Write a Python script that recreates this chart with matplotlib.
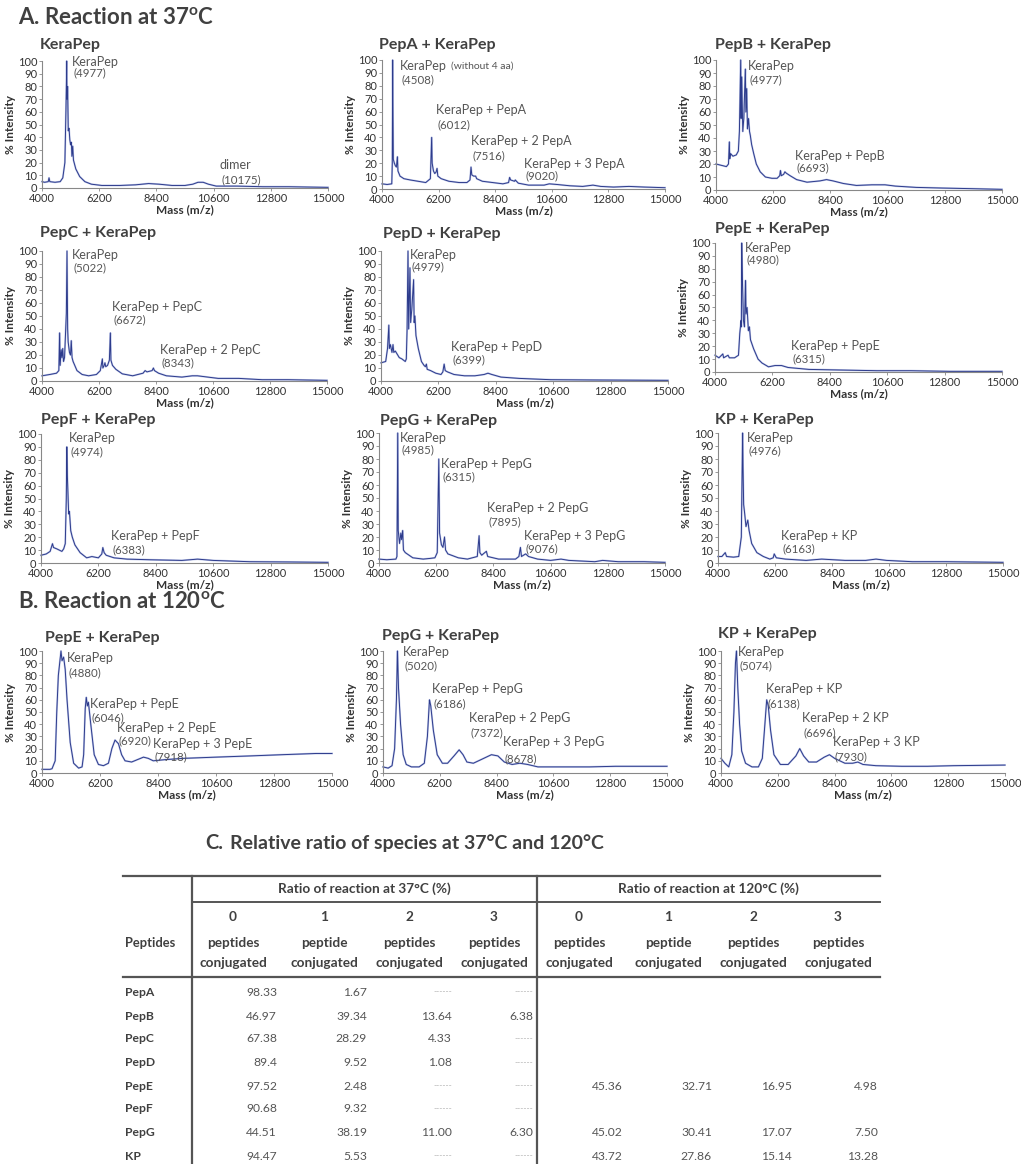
import matplotlib.pyplot as plt

plt.rcParams['font.family'] = ['Lato', 'DejaVu Sans']
plt.rcParams['mathtext.fontset'] = 'custom'
plt.rcParams['mathtext.rm'] = 'Lato'
plt.rcParams['mathtext.bf'] = 'Lato:bold'

W, H = 1021, 1164

# ---- spectra, 37 C ----
kerapep_mz = [4000, 4100, 4240, 4270, 4300, 4500, 4700, 4800, 4880, 4920, 4940, 4950, 4960, 4985,
              5010, 5040, 5070, 5100, 5130, 5150, 5180, 5210, 5300, 5450, 5650, 5900, 6300, 7000,
              7600, 8100, 8500, 9000, 9500, 9800, 10000, 10200, 10400, 10700, 11500, 12500, 13500, 15000]
kerapep_int = [5, 4.5, 5, 8, 5, 4.5, 5, 8, 20, 60, 83, 100, 70, 80,
               45, 47, 38, 34, 36, 25, 33, 22, 15, 9, 5, 3, 2, 2,
               2.5, 3.5, 3, 2, 2, 3, 4.5, 4.5, 3, 1.5, 1.5, 1, 1, 0.5]

pepa_mz = [4000, 4200, 4380, 4400, 4414, 4425, 4440, 4480, 4520, 4560, 4600, 4620, 4700, 4850,
           5100, 5400, 5700, 5880, 5930, 5950, 6000, 6050, 6100, 6140, 6170, 6300, 6600, 7000,
           7300, 7420, 7460, 7490, 7560, 7640, 7680, 7900, 8300, 8700, 8920, 8960, 9000, 9150,
           9180, 9300, 9700, 10300, 10500, 10800, 11300, 11800, 12200, 12500, 13000, 13600, 14200, 15000]
pepa_int = [4, 3.5, 4, 20, 100, 63, 23, 20, 18, 17, 25, 14, 10, 8,
            7, 6, 5, 8, 40, 20, 14, 12, 13, 16, 10, 8, 6, 5,
            5, 7, 17, 11, 10, 10, 8, 6, 5, 4, 5, 9, 7, 6,
            7, 4.5, 3, 3, 4, 3.5, 2.5, 2, 3, 2, 1.5, 2, 1.5, 1]

pepb_mz = [4000, 4200, 4400, 4480, 4514, 4530, 4560, 4650, 4780, 4860, 4900, 4950, 4965, 4990,
           5030, 5070, 5100, 5130, 5150, 5180, 5210, 5250, 5290, 5320, 5370, 5450, 5550, 5700,
           5900, 6150, 6350, 6450, 6480, 6510, 6600, 6650, 6700, 6850, 7100, 7500, 8000, 8250,
           8500, 8900, 9400, 10000, 10500, 10900, 11700, 12700, 13900, 15000]
pepb_int = [20, 19, 18, 20, 37, 24, 28, 26, 27, 30, 45, 100, 55, 87,
            45, 55, 75, 93, 60, 78, 47, 55, 45, 42, 35, 28, 20, 14,
            10, 9, 9, 11, 15, 11, 12, 14, 13, 11, 8, 6, 7, 8,
            7, 5, 3.5, 4, 4, 3, 2, 1.5, 1, 0.5]

pepc_mz = [4000, 4300, 4560, 4650, 4680, 4700, 4740, 4770, 4800, 4830, 4870, 4940, 4965, 4990,
           5010, 5060, 5100, 5130, 5160, 5200, 5350, 5550, 5800, 6100, 6250, 6330, 6350, 6400,
           6430, 6460, 6530, 6600, 6640, 6660, 6720, 6850, 7100, 7500, 7900, 7980, 8050, 8250,
           8300, 8340, 8500, 8800, 9400, 9800, 10000, 10400, 10800, 11600, 12500, 13500, 15000]
pepc_int = [4, 5, 6, 8, 37, 12, 24, 18, 25, 15, 18, 52, 100, 40,
            30, 22, 20, 31, 18, 15, 8, 5, 4, 5, 8, 17, 10, 12,
            14, 11, 12, 16, 37, 16, 12, 9, 5.5, 4, 6, 8, 7, 8,
            10, 8, 6, 4, 3, 4, 4, 3, 2, 2, 1, 1, 0.5]

pepd_mz = [4000, 4180, 4250, 4300, 4320, 4360, 4420, 4460, 4490, 4550, 4700, 4800, 4930, 4970,
           5000, 5035, 5060, 5110, 5135, 5180, 5250, 5270, 5300, 5340, 5430, 5550, 5650, 5700,
           5740, 5770, 5900, 6100, 6300, 6370, 6420, 6460, 6550, 6800, 7200, 7600, 7950, 8100,
           8250, 8600, 9300, 10500, 12000, 15000]
pepd_int = [14, 15, 25, 43, 25, 28, 22, 28, 22, 23, 18, 17, 15, 17,
            40, 100, 40, 87, 45, 55, 78, 45, 50, 35, 25, 15, 12, 11,
            13, 9, 8, 6, 5, 7, 13, 8, 7, 5, 4, 4, 5, 6,
            5, 3, 2, 1, 0.8, 0.5]

pepe_mz = [4000, 4150, 4300, 4330, 4500, 4550, 4750, 4900, 4950, 5000, 5010, 5025, 5050, 5090,
           5130, 5170, 5190, 5230, 5280, 5320, 5360, 5480, 5650, 5800, 6050, 6300, 6550, 6800,
           7600, 8900, 10200, 11500, 13000, 15000]
pepe_int = [13, 11, 14, 11, 13, 11, 11, 13, 30, 40, 35, 100, 72, 40,
            35, 71, 45, 50, 32, 35, 25, 18, 10, 7, 4, 5, 5, 3.5,
            2, 1.5, 1, 1, 0.5, 0.5]

pepf_mz = [4000, 4200, 4350, 4440, 4480, 4600, 4800, 4870, 4930, 4970, 4990, 5010, 5060, 5090,
           5140, 5200, 5300, 5500, 5750, 5950, 6200, 6330, 6370, 6420, 6500, 6800, 7300, 8200,
           9400, 10000, 10600, 12000, 13500, 15000]
pepf_int = [6, 7, 9, 15, 12, 11, 9, 11, 15, 50, 90, 68, 38, 40,
            25, 20, 14, 8, 4, 5, 4, 7, 12, 8, 6, 4, 3, 2.5,
            2, 3, 2, 1, 0.8, 0.5]

pepg_mz = [4000, 4300, 4650, 4690, 4720, 4740, 4790, 4840, 4870, 4910, 4940, 5010, 5300, 5700,
           5950, 6150, 6240, 6300, 6330, 6400, 6460, 6520, 6560, 6650, 7050, 7400, 7780, 7850,
           7880, 7950, 8130, 8180, 8600, 9250, 9380, 9440, 9480, 9640, 9750, 10100, 10600, 11000,
           11300, 12300, 12600, 13200, 14200, 15000]
pepg_int = [3, 2.5, 3, 5, 100, 25, 15, 23, 18, 25, 10, 8, 4, 3,
            3.5, 4, 8, 80, 23, 14, 12, 20, 10, 7, 4, 3, 5, 21,
            8, 6, 9, 5, 3, 3, 5, 12, 5, 7, 5, 3, 2, 3,
            2, 1, 2, 1, 1, 0.5]

kp_mz = [4000, 4150, 4280, 4330, 4600, 4800, 4900, 4950, 4965, 4990, 5030, 5080, 5150, 5200,
         5300, 5500, 5750, 6000, 6130, 6170, 6250, 6600, 7400, 8000, 8900, 9700, 10100, 10500,
         11500, 12800, 15000]
kp_int = [5, 5, 8, 5, 4.5, 5, 20, 100, 75, 45, 38, 28, 33, 25,
          15, 8, 5, 3, 4, 7, 4, 3, 2, 3, 2, 2, 3, 2,
          1, 1, 0.5]

# ---- spectra, 120 C ----
pepe_hot_mz = [4000, 4300, 4380, 4500, 4560, 4620, 4670, 4720, 4760, 4820, 4880, 4950, 5070, 5200,
               5390, 5520, 5580, 5640, 5680, 5720, 5760, 5850, 5980, 6140, 6330, 6520, 6650, 6770,
               6900, 7020, 7150, 7400, 7850, 8030, 8220, 8700, 9360, 10600, 11900, 13100, 14400, 15000]
pepe_hot_int = [3, 3, 3.5, 10, 50, 80, 90, 100, 92, 95, 85, 60, 25, 8,
                4, 5, 15, 53, 62, 55, 58, 40, 15, 7, 6, 8, 20, 27,
                24, 15, 10, 9, 13, 12, 10, 11, 12, 13, 14, 15, 16, 16]

pepg_hot_mz = [4000, 4200, 4350, 4450, 4520, 4560, 4600, 4680, 4780, 4900, 5100, 5400, 5600, 5720,
               5800, 5850, 5950, 6100, 6300, 6500, 6750, 6950, 7100, 7250, 7500, 7900, 8200, 8450,
               8700, 9000, 9300, 9600, 10000, 11000, 12000, 13000, 14000, 15000]
pepg_hot_int = [5, 4, 6, 20, 60, 100, 70, 40, 15, 7, 5, 5, 8, 30,
                60, 55, 35, 15, 8, 8, 14, 19, 15, 9, 8, 12, 15, 14,
                9, 7, 8, 7, 5, 5, 5, 5.5, 5.5, 5.5]

kp_hot_mz = [4000, 4150, 4300, 4420, 4500, 4560, 4600, 4650, 4720, 4800, 4950, 5200, 5450, 5600,
             5700, 5770, 5830, 5920, 6050, 6300, 6600, 6900, 7050, 7200, 7400, 7700, 8000, 8200,
             8400, 8800, 9100, 9300, 9500, 10000, 11000, 12000, 13000, 15000]
kp_hot_int = [12, 8, 5, 15, 50, 90, 100, 70, 40, 18, 8, 5, 5, 12,
              40, 60, 55, 35, 15, 7, 7, 14, 20, 14, 9, 9, 13, 15,
              12, 8, 8, 9, 7, 6, 5.5, 5.5, 6, 6.5]

# ---- peak annotations ----
kerapep_peaks = ["KeraPep", "dimer"]
kerapep_peak_mz = [4977, 10175]
pepa_peaks = ["KeraPep", "KeraPep + PepA", "KeraPep + 2 PepA", "KeraPep + 3 PepA"]
pepa_peak_mz = [4508, 6012, 7516, 9020]
pepb_peaks = ["KeraPep", "KeraPep + PepB"]
pepb_peak_mz = [4977, 6693]
pepc_peaks = ["KeraPep", "KeraPep + PepC", "KeraPep + 2 PepC"]
pepc_peak_mz = [5022, 6672, 8343]
pepd_peaks = ["KeraPep", "KeraPep + PepD"]
pepd_peak_mz = [4979, 6399]
pepe_peaks = ["KeraPep", "KeraPep + PepE"]
pepe_peak_mz = [4980, 6315]
pepf_peaks = ["KeraPep", "KeraPep + PepF"]
pepf_peak_mz = [4974, 6383]
pepg_peaks = ["KeraPep", "KeraPep + PepG", "KeraPep + 2 PepG", "KeraPep + 3 PepG"]
pepg_peak_mz = [4985, 6315, 7895, 9076]
kp_peaks = ["KeraPep", "KeraPep + KP"]
kp_peak_mz = [4976, 6163]
pepe_hot_peaks = ["KeraPep", "KeraPep + PepE", "KeraPep + 2 PepE", "KeraPep + 3 PepE"]
pepe_hot_peak_mz = [4880, 6046, 6920, 7918]
pepg_hot_peaks = ["KeraPep", "KeraPep + PepG", "KeraPep + 2 PepG", "KeraPep + 3 PepG"]
pepg_hot_peak_mz = [5020, 6186, 7372, 8678]
kp_hot_peaks = ["KeraPep", "KeraPep + KP", "KeraPep + 2 KP", "KeraPep + 3 KP"]
kp_hot_peak_mz = [5074, 6138, 6696, 7930]

# ---- table ----
peptides = ["PepA", "PepB", "PepC", "PepD", "PepE", "PepF", "PepG", "KP"]
ratio_37 = [[98.33, 1.67, None, None],
            [46.97, 39.34, 13.64, 6.38],
            [67.38, 28.29, 4.33, None],
            [89.4, 9.52, 1.08, None],
            [97.52, 2.48, None, None],
            [90.68, 9.32, None, None],
            [44.51, 38.19, 11.00, 6.30],
            [94.47, 5.53, None, None]]
ratio_120 = [None, None, None, None,
             [45.36, 32.71, 16.95, 4.98],
             None,
             [45.02, 30.41, 17.07, 7.50],
             [43.72, 27.86, 15.14, 13.28]]
n_conj = ["0", "1", "2", "3"]
conj_word = ["peptides", "peptide", "peptides", "peptides"]

LINE = '#2d3b8c'
HALO = '#9aa8dc'
TXT = '#404040'
GREY = '#555555'

fig = plt.figure(figsize=(W / 100, H / 100), dpi=100)
bg = fig.add_axes([0, 0, 1, 1])
bg.set_xlim(0, W)
bg.set_ylim(H, 0)
bg.axis('off')


def spectrum(box, title, title_xy, mz, inten, names, masses, spots):
    l, t, r, b = box
    ax = fig.add_axes([l / W, 1 - b / H, (r - l) / W, (b - t) / H])
    ax.plot(mz, inten, color=HALO, lw=1.4, alpha=0.6, clip_on=False)
    ax.plot(mz, inten, color=LINE, lw=0.7, clip_on=False)
    ax.set_xlim(4000, 15000)
    ax.set_ylim(0, 100)
    ax.set_xticks([4000, 6200, 8400, 10600, 12800, 15000])
    ax.set_yticks(range(0, 101, 10))
    for s in ['top', 'right']:
        ax.spines[s].set_visible(False)
    for s in ['left', 'bottom']:
        ax.spines[s].set_color('#888888')
        ax.spines[s].set_linewidth(0.8)
    ax.tick_params(direction='out', length=2.5, width=0.6, color='#888888',
                   labelsize=8, pad=1, labelcolor='#333333')
    ax.set_xlabel("Mass (m/z)", fontsize=8.5, fontweight='bold', color='#333333', labelpad=0)
    ax.set_ylabel("% Intensity", fontsize=8.5, fontweight='bold', color='#333333', labelpad=1)
    ax.patch.set_alpha(0)
    texts = []
    for name, m, (x, y1, y2) in zip(names, masses, spots):
        texts.append(ax.text(x, y1, name, fontsize=9, color=GREY, va='center', ha='left'))
        ax.text(x + 60, y2, f"({m})", fontsize=8.3, color=GREY, va='center', ha='left')
    bg.text(title_xy[0], title_xy[1], title, fontsize=11.5, fontweight='bold',
            color=TXT, va='center', ha='left')
    return ax, texts


# section headings
bg.text(18, 18, r"A. Reaction at 37$^{\mathbf{o}}$C", fontsize=16, fontweight='bold',
        color=TXT, va='center')
bg.text(18, 601, r"B. Reaction at 120$^{\mathbf{o}}$C", fontsize=16, fontweight='bold',
        color=TXT, va='center')

# 37 C grid
spectrum((42, 61, 328, 188), "KeraPep", (40, 45), kerapep_mz, kerapep_int,
         kerapep_peaks, kerapep_peak_mz, [(5150, 99, 91), (10840, 18, 6.5)])
ax, texts = spectrum((382, 60, 665, 189), "PepA + KeraPep", (379, 45), pepa_mz, pepa_int,
                     pepa_peaks, pepa_peak_mz,
                     [(4710, 95, 85), (6110, 61, 50), (7455, 37, 26), (9500, 19, 10)])
ax.annotate("(without 4 aa)", xy=(1, 0.5), xycoords=texts[0], xytext=(2.5, 0),
            textcoords='offset points', fontsize=7.5, color=GREY, va='center', ha='left')
spectrum((716, 60, 1002, 190), "PepB + KeraPep", (715, 45), pepb_mz, pepb_int,
         pepb_peaks, pepb_peak_mz, [(5245, 95, 85), (7043, 26, 17)])
spectrum((42, 251, 327, 381), "PepC + KeraPep", (40, 233), pepc_mz, pepc_int,
         pepc_peaks, pepc_peak_mz, [(5160, 97, 87), (6700, 57, 47), (8540, 24, 14)])
spectrum((381, 251, 668, 381), "PepD + KeraPep", (383, 234), pepd_mz, pepd_int,
         pepd_peaks, pepd_peak_mz, [(5120, 97, 88), (6690, 26, 16)])
spectrum((715, 243, 1002, 372), "PepE + KeraPep", (715, 229), pepe_mz, pepe_int,
         pepe_peaks, pepe_peak_mz, [(5150, 96, 87), (6916, 20, 10)])
spectrum((41, 434, 328, 563), "PepF + KeraPep", (41, 420), pepf_mz, pepf_int,
         pepf_peaks, pepf_peak_mz, [(5085, 97, 86), (6690, 21, 10)])
spectrum((379, 433, 665, 563), "PepG + KeraPep", (380, 421), pepg_mz, pepg_int,
         pepg_peaks, pepg_peak_mz,
         [(4810, 96, 87), (6385, 76, 66), (8140, 42, 32), (9590, 20.5, 11)])
spectrum((718, 433, 1003, 563), "KP + KeraPep", (715, 420), kp_mz, kp_int,
         kp_peaks, kp_peak_mz, [(5117, 96, 86), (6440, 20.5, 11)])

# 120 C row
spectrum((42, 651, 332, 773), "PepE + KeraPep", (45, 638), pepe_hot_mz, pepe_hot_int,
         pepe_hot_peaks, pepe_hot_peak_mz,
         [(4946, 94.5, 82), (5830, 56.5, 45.6), (6860, 37, 26), (8200, 24, 13.6)])
spectrum((383, 651, 667, 773), "PepG + KeraPep", (382, 636), pepg_hot_mz, pepg_hot_int,
         pepg_hot_peaks, pepg_hot_peak_mz,
         [(4775, 99, 88), (5900, 69, 57), (7340, 45, 33), (8650, 25, 12)])
spectrum((721, 651, 1005, 773), "KP + KeraPep", (718, 634), kp_hot_mz, kp_hot_int,
         kp_hot_peaks, kp_hot_peak_mz,
         [(4660, 99, 88), (5740, 69, 57), (7140, 45, 33), (8330, 25, 13)])

# ---- table C ----
bg.text(205, 843, "C.", fontsize=14.5, fontweight='bold', color=TXT, va='center')
bg.text(230, 843, "Relative ratio of species at 37°C and 120°C", fontsize=14,
        fontweight='bold', color=TXT, va='center')

RULE = '#555555'
bg.plot([123, 880], [876, 876], color=RULE, lw=1.6)
bg.plot([192, 880], [902, 902], color=RULE, lw=1.4)
bg.plot([123, 880], [977, 977], color=RULE, lw=1.6)
bg.plot([192, 192], [876, 1164], color=RULE, lw=1.6)
bg.plot([537, 537], [876, 1164], color=RULE, lw=1.6)

hdr = dict(fontsize=9.8, fontweight='bold', color=TXT, va='center', ha='center')
bg.text(364, 889, "Ratio of reaction at 37°C (%)", **hdr)
bg.text(708, 889, "Ratio of reaction at 120°C (%)", **hdr)
bg.text(125, 943, "Peptides", **{**hdr, 'ha': 'left', 'fontsize': 9.3})

centers_37 = [233, 324, 409, 494]
centers_120 = [579, 668, 753, 838]
right_37 = [277, 367, 452, 533]
right_120 = [623, 712, 792, 878]
for cols in (centers_37, centers_120):
    for cx, n, word in zip(cols, n_conj, conj_word):
        bg.text(cx, 917, n, **hdr)
        bg.text(cx, 943, word, **hdr)
        bg.text(cx, 963, "conjugated", **hdr)

row_y = [992, 1016, 1039, 1063, 1086, 1109, 1133, 1156]
cell = dict(fontsize=8.7, color=GREY, va='center', ha='right')
for name, y, r37, r120 in zip(peptides, row_y, ratio_37, ratio_120):
    bg.text(125, y, name, fontsize=8.7, fontweight='bold', color=TXT, va='center', ha='left')
    for x, v in zip(right_37, r37):
        if v is None:
            bg.text(x, y, "------", fontsize=6, color='#aaaaaa', va='center', ha='right')
        else:
            bg.text(x, y, f"{v:g}" if v == 89.4 else f"{v:.2f}", **cell)
    if r120 is not None:
        for x, v in zip(right_120, r120):
            bg.text(x, y, f"{v:.2f}", **cell)

fig.savefig("out.png", dpi=100)
